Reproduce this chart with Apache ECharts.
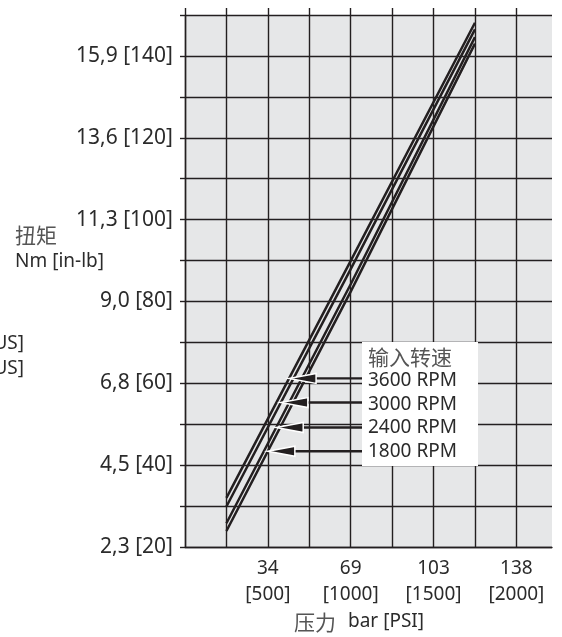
<!DOCTYPE html>
<html>
<head>
<meta charset="utf-8">
<script src="https://cdn.jsdelivr.net/npm/echarts@6.0.0/dist/echarts.min.js"></script>
<style>
  html, body { margin: 0; padding: 0; background: #fff; }
  #chart { width: 562px; height: 637px; }
</style>
</head>
<body>
<div id="chart"></div>
<script>
// pressure in PSI, torque in in-lb
const pressurePsi = [250, 1000, 1750];
const torque3600 = [32.0, 89.9, 148.1];
const torque3000 = [29.9, 87.9, 146.5];
const torque2400 = [25.8, 84.2, 144.6];
const torque1800 = [23.9, 82.4, 143.0];

const rpmLabels = ['3600 RPM', '3000 RPM', '2400 RPM', '1800 RPM'];
const arrowTorque = [61.2, 55.3, 49.2, 43.4];

const yTickValues = [20, 40, 60, 80, 100, 120, 140];
const yTickLabels = ['2,3 [20]', '4,5 [40]', '6,8 [60]', '9,0 [80]', '11,3 [100]', '13,6 [120]', '15,9 [140]'];
const xTickValues = [500, 1000, 1500, 2000];
const xTickLabels = ['34\n[500]', '69\n[1000]', '103\n[1500]', '138\n[2000]'];
const xGridValues = [0, 250, 500, 750, 1000, 1250, 1500, 1750, 2000];

const INK = '#231f20';
const TXT = '#2b2b2b';
const LATIN = "'Noto Sans', 'Noto Sans CJK SC', sans-serif";
const CJK = "'Noto Sans CJK SC', sans-serif";
const BOX_LEFT = 362;

const lines = [torque3600, torque3000, torque2400, torque1800];

// pressure where a line reaches a given torque (for arrow tips)
function psiAt(torque, ys) {
  for (let i = 0; i < ys.length - 1; i++) {
    if (torque >= ys[i] && torque <= ys[i + 1]) {
      const t = (torque - ys[i]) / (ys[i + 1] - ys[i]);
      return pressurePsi[i] + t * (pressurePsi[i + 1] - pressurePsi[i]);
    }
  }
  return pressurePsi[0];
}

const arrowData = arrowTorque.map((t, i) => [psiAt(t, lines[i]), t]);

const chart = echarts.init(document.getElementById('chart'));

const option = {
  animation: false,
  textStyle: { fontFamily: LATIN },
  grid: {
    left: 185, top: 15, width: 367, height: 532,
    show: true, backgroundColor: '#e6e7e8', borderWidth: 0
  },
  xAxis: [
    {
      type: 'value', min: 0, max: 2215, interval: 250,
      axisLine: { show: true, lineStyle: { color: INK, width: 1.4 } },
      axisTick: { show: false },
      splitLine: { show: true, showMaxLine: false, lineStyle: { color: INK, width: 1.4 } },
      axisLabel: {
        customValues: xTickValues,
        margin: 8,
        color: TXT,
        fontSize: 19,
        lineHeight: 26.5,
        align: 'center',
        formatter: v => xTickLabels[xTickValues.indexOf(v)] || ''
      }
    },
    {
      type: 'value', position: 'top', min: 0, max: 2215, interval: 250,
      axisLine: { show: false },
      axisTick: { show: true, inside: false, length: 7, customValues: xGridValues, lineStyle: { color: INK, width: 1.4 } },
      splitLine: { show: false },
      axisLabel: { show: false }
    }
  ],
  yAxis: {
    type: 'value', min: 20, max: 150, interval: 10,
    axisLine: { show: true, lineStyle: { color: INK, width: 1.4 } },
    axisTick: { show: true, inside: false, length: 5, lineStyle: { color: INK, width: 1.4 } },
    splitLine: { show: true, lineStyle: { color: INK, width: 1.4 } },
    axisLabel: {
      customValues: yTickValues,
      margin: 12,
      color: TXT,
      fontSize: 21,
      formatter: v => yTickLabels[yTickValues.indexOf(v)] || ''
    }
  },
  series: [
    ...lines.map((ys, i) => ({
      name: rpmLabels[i],
      type: 'line',
      symbol: 'none',
      z: 3,
      lineStyle: { color: INK, width: 2.5 },
      data: pressurePsi.map((p, j) => [p, ys[j]])
    })),
    {
      type: 'custom',
      z: 6,
      data: arrowData,
      renderItem: (params, api) => {
        const tip = api.coord([api.value(0), api.value(1)]);
        const y = tip[1];
        const headLen = 27, half = 5;
        return {
          type: 'group',
          children: [
            { type: 'line', shape: { x1: tip[0] + headLen - 2, y1: y, x2: BOX_LEFT, y2: y },
              style: { stroke: INK, lineWidth: 2.4 } },
            { type: 'polygon', shape: { points: [[tip[0], y], [tip[0] + headLen, y - half], [tip[0] + headLen, y + half]] },
              style: { fill: INK, stroke: '#fff', lineWidth: 1.5 } }
          ]
        };
      }
    }
  ],
  graphic: {
    elements: [
      { type: 'rect', z: 5, shape: { x: BOX_LEFT, y: 342, width: 116, height: 124 }, style: { fill: '#fff' } },
      { type: 'text', z: 6, style: { text: '输入转速', x: 368, y: 357, verticalAlign: 'middle', font: '21px ' + CJK, fill: '#555' } },
      ...rpmLabels.map((t, i) => ({
        type: 'text', z: 6,
        style: { text: t, x: 368, y: 381 + i * 23.5, verticalAlign: 'middle', font: '19px ' + LATIN, fill: TXT }
      })),
      { type: 'text', z: 6, style: { text: '扭矩', x: 15, y: 235, verticalAlign: 'middle', font: '21px ' + CJK, fill: '#555' } },
      { type: 'text', z: 6, style: { text: 'Nm [in-lb]', x: 15, y: 262, verticalAlign: 'middle', font: '19px ' + LATIN, fill: TXT } },
      { type: 'text', z: 6, style: { text: '[gal/min US]', x: 24, y: 344, align: 'right', verticalAlign: 'middle', font: '19px ' + LATIN, fill: TXT } },
      { type: 'text', z: 6, style: { text: '[gal/min US]', x: 24, y: 369, align: 'right', verticalAlign: 'middle', font: '19px ' + LATIN, fill: TXT } },
      { type: 'text', z: 6, style: { text: '压力', x: 294, y: 622, verticalAlign: 'middle', font: '21px ' + CJK, fill: '#555' } },
      { type: 'text', z: 6, style: { text: 'bar [PSI]', x: 348, y: 622, verticalAlign: 'middle', font: '19px ' + LATIN, fill: TXT } }
    ]
  }
};

chart.setOption(option);
</script>
</body>
</html>
